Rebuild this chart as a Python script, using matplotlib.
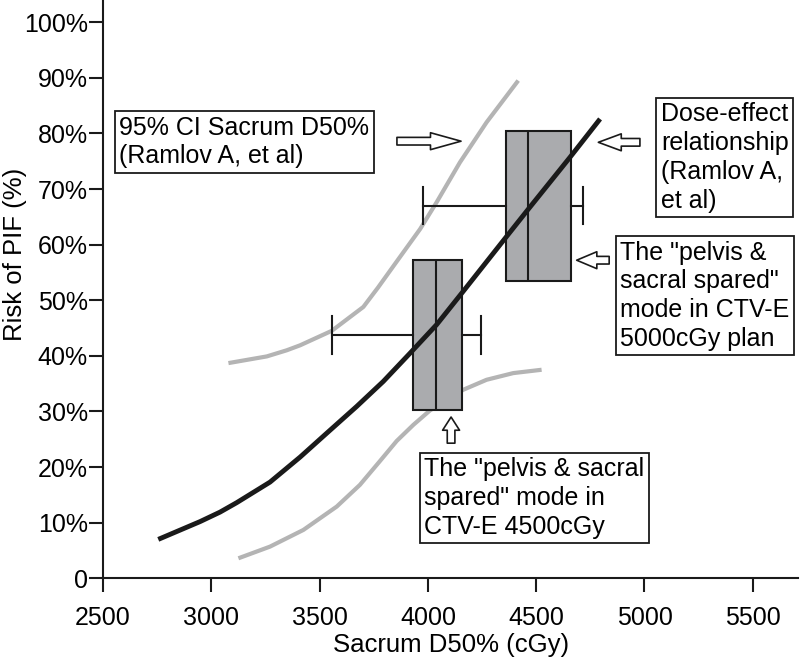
import matplotlib.pyplot as plt

plt.rcParams["font.family"] = ["Liberation Sans", "DejaVu Sans"]
plt.rcParams["font.size"] = 18

# dose-effect curve (Ramlov A, et al)
black_x = [2755, 2948, 3040, 3117, 3271, 3410, 3533, 3671, 3794, 3918, 4040, 4163, 4364, 4464, 4656, 4795]
black_y = [7.0, 10.2, 11.9, 13.6, 17.3, 21.8, 26.1, 30.9, 35.4, 40.5, 45.6, 51.6, 61.5, 66.4, 75.7, 82.6]

# 95% CI curves
upper_x = [3079, 3256, 3348, 3410, 3556, 3702, 3770, 3840, 3964, 4040, 4148, 4271, 4417]
upper_y = [38.7, 39.9, 41.0, 41.9, 44.5, 48.8, 52.3, 56.1, 62.8, 67.6, 74.8, 82.0, 89.5]
lower_x = [3125, 3271, 3425, 3579, 3686, 3779, 3856, 3933, 4010, 4163, 4271, 4394, 4525]
lower_y = [3.6, 5.7, 8.7, 12.9, 16.8, 21.1, 24.7, 27.6, 30.2, 33.9, 35.7, 36.9, 37.5]

# box plots: 4500cGy plan and 5000cGy plan
box_pos = [43.75, 67.0]
box_whislo = [3556, 3976]
box_q1 = [3930, 4359]
box_med = [4037, 4463]
box_q3 = [4159, 4659]
box_whishi = [4245, 4715]

x_ticks = [2500, 3000, 3500, 4000, 4500, 5000, 5500]
y_ticks = [0, 10, 20, 30, 40, 50, 60, 70, 80, 90, 100]
y_labels = ["0"] + [f"{v}%" for v in y_ticks[1:]]

fig = plt.figure(figsize=(8, 6.58), dpi=100)
ax = fig.add_axes([0.1288, 0.1211, 0.869, 0.879])

ax.plot(upper_x, upper_y, color="#b4b4b4", lw=3, zorder=1, solid_capstyle="butt")
ax.plot(lower_x, lower_y, color="#b4b4b4", lw=3, zorder=1, solid_capstyle="butt")

stats = []
for i in range(len(box_pos)):
    stats.append(dict(med=box_med[i], q1=box_q1[i], q3=box_q3[i],
                      whislo=box_whislo[i], whishi=box_whishi[i], fliers=[]))
ax.bxp(stats, positions=box_pos, widths=27, orientation="horizontal",
       patch_artist=True, capwidths=[6.7, 6.7], manage_ticks=False,
       boxprops=dict(facecolor="#aaabae", edgecolor="#1a1a1a", lw=1.5),
       medianprops=dict(color="#1a1a1a", lw=1.5),
       whiskerprops=dict(color="#1a1a1a", lw=1.5),
       capprops=dict(color="#1a1a1a", lw=1.5))

ax.plot(black_x, black_y, color="#1a1a1a", lw=3.5, zorder=5, solid_capstyle="butt")

ax.set_xlim(2500, 5710)
ax.set_ylim(0, 104)
ax.set_xticks(x_ticks)
ax.set_yticks(y_ticks)
ax.set_yticklabels(y_labels)
ax.spines["top"].set_visible(False)
ax.spines["right"].set_visible(False)
for s in ["left", "bottom"]:
    ax.spines[s].set_linewidth(1.5)
    ax.spines[s].set_color("#1a1a1a")
ax.tick_params(axis="both", direction="out", length=10, width=1.5, color="#1a1a1a", labelsize=18)
ax.tick_params(axis="y", pad=1)
ax.tick_params(axis="x", pad=10)
ax.set_xlabel("Sacrum D50% (cGy)", fontsize=18.5, labelpad=2)
ax.set_ylabel("Risk of PIF (%)", fontsize=18.5)
ax.yaxis.set_label_coords(-0.110, 0.56)

box_style = dict(boxstyle="square,pad=0.18", fc="white", ec="#1a1a1a", lw=1.3)
ax.text(2574, 83.2, "95% CI Sacrum D50%\n(Ramlov A, et al)", ha="left", va="top",
        bbox=box_style, linespacing=1.25, clip_on=False)
ax.text(5076, 85.6, "Dose-effect\nrelationship\n(Ramlov A,\net al)", ha="left", va="top",
        bbox=box_style, linespacing=1.25, clip_on=False)
ax.text(4887, 60.7, "The \"pelvis &\nsacral spared\"\nmode in CTV-E\n5000cGy plan", ha="left", va="top",
        bbox=box_style, linespacing=1.25, clip_on=False)
ax.text(3984, 21.8, "The \"pelvis & sacral\nspared\" mode in\nCTV-E 4500cGy", ha="left", va="top",
        bbox=box_style, linespacing=1.25, clip_on=False)

# hollow block arrows: (tail, tip, head length)
arrows = [((3857, 78.6), (4153, 78.6), 2.2),
          ((4979, 78.4), (4787, 78.4), 1.65),
          ((4837, 57.2), (4687, 57.2), 1.45),
          ((4107, 24.3), (4107, 29.0), 0.95)]
for tail, tip, hl in arrows:
    ax.annotate("", xy=tip, xytext=tail,
                arrowprops=dict(arrowstyle=f"simple,head_length={hl},head_width=1.22,tail_width=0.55",
                                fc="white", ec="#1a1a1a", lw=1.2, mutation_scale=10,
                                shrinkA=0, shrinkB=0))

fig.savefig("out.png", dpi=100)
